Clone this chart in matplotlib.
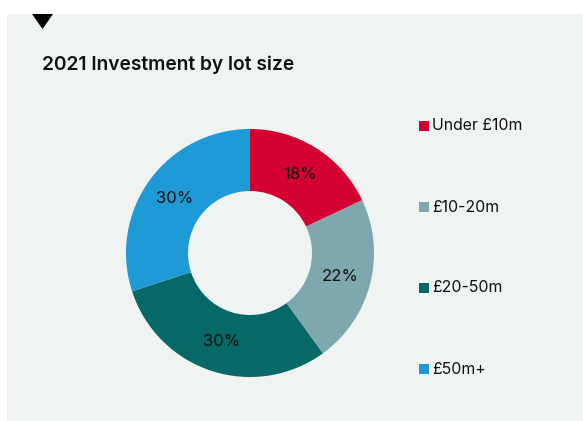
import matplotlib
matplotlib.use("Agg")
import matplotlib.pyplot as plt
from matplotlib.patches import Rectangle, Polygon

labels = ["Under £10m", "£10-20m", "£20-50m", "£50m+"]
values = [18, 22, 30, 30]
colors = ["#D50032", "#7FA8AE", "#076868", "#1E9AD7"]
title = "2021 Investment by lot size"

W, H = 583, 421
DPI = 100
plt.rcParams['font.family'] = ['Inter', 'DejaVu Sans']
fig = plt.figure(figsize=(W / DPI, H / DPI), dpi=DPI, facecolor="white")

def fx(px):
    return px / W

def fy(py):
    return 1 - py / H

# panel background
fig.patches.append(Rectangle((fx(7), fy(421)), fx(583) - fx(7), fy(14) - fy(421),
                             transform=fig.transFigure, facecolor="#EFF3F2",
                             edgecolor="none", zorder=-10))
# marker triangle
fig.patches.append(Polygon([(fx(32), fy(14)), (fx(53), fy(14)), (fx(42.5), fy(29))],
                           closed=True, transform=fig.transFigure,
                           facecolor="black", edgecolor="none", zorder=1))

fig.text(fx(42), fy(70), title, fontsize=13.8, fontweight="semibold",
         color="#111111", ha="left", va="baseline")

ax = fig.add_axes([fx(126), fy(377), fx(374) - fx(126), fy(129) - fy(377)])
ax.set_zorder(2)
ax.set_facecolor("none")
ax.patch.set_visible(False)
wedges, texts, autotexts = ax.pie(values, colors=colors, startangle=90, counterclock=False,
                                  radius=1.0, autopct="%d%%", pctdistance=0.75,
                                  wedgeprops=dict(width=0.5, linewidth=0),
                                  textprops=dict(fontsize=12, color="#111111"))
ax.set_xlim(-1, 1)
ax.set_ylim(-1, 1)
ax.set_aspect("equal")
ax.axis("off")

# legend
for i, (lab, col) in enumerate(zip(labels, colors)):
    yc = 126 + i * 81
    fig.patches.append(Rectangle((fx(419), fy(yc + 5)), fx(429) - fx(419), fy(yc - 5) - fy(yc + 5),
                                 transform=fig.transFigure, facecolor=col,
                                 edgecolor="none", zorder=2))
    fig.text(fx(432), fy(yc), lab, fontsize=11.4, color="#111111",
             ha="left", va="center")

fig.savefig("out.png", dpi=DPI, facecolor="white")
